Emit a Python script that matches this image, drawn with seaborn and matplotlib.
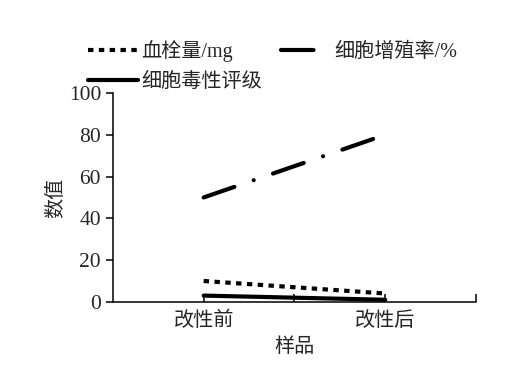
import matplotlib

matplotlib.use("Agg")

import matplotlib.pyplot as plt
import pandas as pd
import seaborn as sns
from matplotlib.lines import Line2D
from matplotlib.ticker import FixedLocator

# values
samples = ["改性前", "改性后"]
thrombus_mg = [10, 4]
proliferation_pct = [50, 80]
toxicity_grade = [3, 1]
series_names = ["血栓量/mg", "细胞增殖率/%", "细胞毒性评级"]
y_ticks = [0, 20, 40, 60, 80, 100]

frame = pd.DataFrame(
    {
        "样品": samples * 3,
        "数值": thrombus_mg + proliferation_pct + toxicity_grade,
        "series": [name for name in series_names for _ in samples],
    }
)

sns.set_theme(style="ticks")
plt.rcParams["font.family"] = ["Liberation Serif", "Noto Sans CJK SC"]
plt.rcParams["axes.unicode_minus"] = False

fig = plt.figure(figsize=(5.3, 3.65), dpi=100)
ax = fig.add_axes([0.213, 0.173, 0.685, 0.572])

dash_styles = {
    "血栓量/mg": (1.3, 1.3),
    "细胞增殖率/%": (7.8, 4.9, 0.01, 4.9),
    "细胞毒性评级": "",
}
sns.lineplot(
    data=frame,
    x="样品",
    y="数值",
    hue="series",
    style="series",
    hue_order=series_names,
    style_order=series_names,
    palette=["black"] * 3,
    dashes=dash_styles,
    linewidth=3,
    errorbar=None,
    legend=False,
    ax=ax,
)

lines = dict(zip(series_names, ax.get_lines()))
lines["血栓量/mg"].set_dash_capstyle("butt")
for name in ("细胞增殖率/%", "细胞毒性评级"):
    lines[name].set_dash_capstyle("round")
    lines[name].set_solid_capstyle("round")

ax.set_xlim(-0.5, 1.5)
ax.set_ylim(0, 100)
ax.set_yticks(y_ticks)
ax.xaxis.set_minor_locator(FixedLocator([0.5, 1.5]))
ax.tick_params(axis="x", which="both", direction="in", length=6, width=1.1,
               color="black", pad=7, labelsize=14.5)
ax.tick_params(axis="y", direction="out", length=5, width=1.1,
               color="black", pad=3.5, labelsize=15.5)
for side in ("left", "bottom"):
    ax.spines[side].set_color("black")
    ax.spines[side].set_linewidth(1.1)
sns.despine(ax=ax)
ax.set_xlabel("样品", fontsize=14.5, labelpad=5)
ax.set_ylabel("数值", fontsize=14.5, labelpad=1.5)

order = ["血栓量/mg", "细胞毒性评级", "细胞增殖率/%"]
handles = []
for name in order:
    src = lines[name]
    h = Line2D([], [], color="black", linewidth=3, linestyle=src.get_linestyle())
    if dash_styles[name]:
        h.set_dashes(dash_styles[name])
    h.set_dash_capstyle(src.get_dash_capstyle())
    h.set_solid_capstyle("round")
    handles.append(h)

fig.legend(
    handles,
    order,
    ncol=2,
    loc="upper left",
    bbox_to_anchor=(88 / 530, 1 - 40 / 365),
    frameon=False,
    fontsize=14.5,
    handlelength=2.5,
    handletextpad=0.15,
    columnspacing=0.95,
    labelspacing=0.55,
    borderpad=0,
    borderaxespad=0,
)

fig.savefig("out.png", dpi=100)
